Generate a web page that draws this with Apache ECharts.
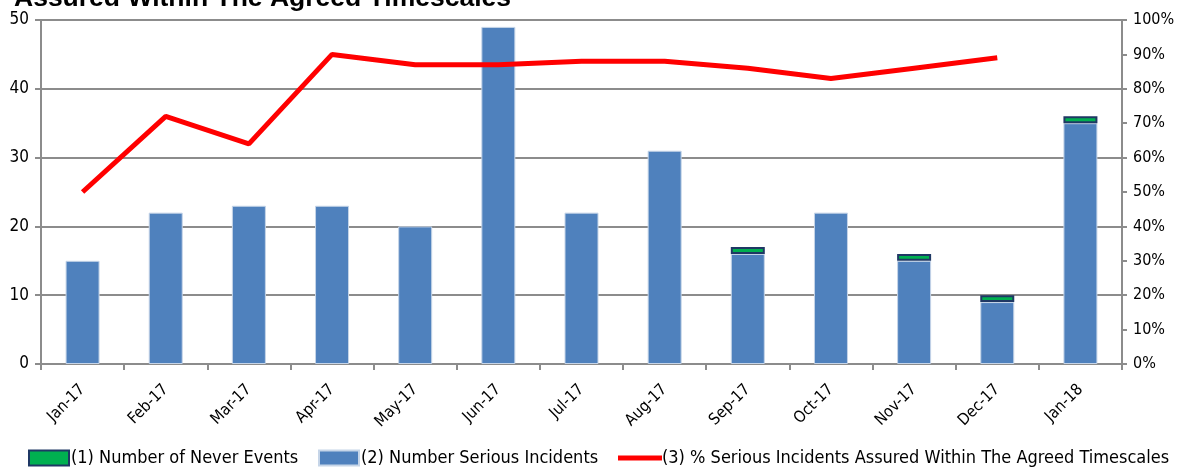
<!DOCTYPE html>
<html><head><meta charset="utf-8">
<script src="https://cdn.jsdelivr.net/npm/echarts@6/dist/echarts.min.js"></script>
<style>html,body{margin:0;padding:0;background:#fff}#c{width:1179px;height:469px}</style>
</head><body><div id="c"></div>
<script>
const categories = ['Jan-17','Feb-17','Mar-17','Apr-17','May-17','Jun-17','Jul-17','Aug-17','Sep-17','Oct-17','Nov-17','Dec-17','Jan-18'];
const seriousIncidents = [15,22,23,23,20,49,22,31,16,22,15,9,35];
const neverEvents = [0,0,0,0,0,0,0,0,1,0,1,1,1];
const pctAssured = [50,72,64,90,87,87,88,88,86,83,86,89,null];
const leftTicks = [0,10,20,30,40,50];
const rightTicks = [0,10,20,30,40,50,60,70,80,90,100];
const names = ['(1) Number of Never Events','(2) Number Serious Incidents','(3) % Serious Incidents Assured Within The Agreed Timescales'];
const titleText = 'Assured Within The Agreed Timescales';

const font = "'Liberation Sans Narrow','DejaVu Sans Condensed',sans-serif";
const chart = echarts.init(document.getElementById('c'));
const legendBase = {top: 444, itemHeight: 15, icon:'rect', textStyle:{fontFamily:font, fontSize:18, color:'#000', padding:[0,0,0,-3]}, itemGap: 0};
chart.setOption({
  animation:false,
  title:{text:titleText, left:9, top:-20, textStyle:{fontFamily:"'Liberation Sans',Arial,sans-serif", fontWeight:'bold', fontSize:26.5, color:'#000'}},
  grid:{left:41, right:57, top:20, bottom:105},
  legend:[
    Object.assign({}, legendBase, {left:23, data:[names[0]], itemWidth:40}),
    Object.assign({}, legendBase, {left:313, data:[names[1]], itemWidth:40}),
    Object.assign({}, legendBase, {left:613, data:[names[2]], itemWidth:44, itemHeight:5, textStyle:Object.assign({}, legendBase.textStyle, {padding:[0,0,0,-5]})})
  ],
  xAxis:{type:'category', data:categories,
    axisLine:{lineStyle:{color:'#8c8c8c', width:2}},
    axisTick:{show:true, alignWithLabel:false, length:6, lineStyle:{color:'#8c8c8c', width:2}},
    axisLabel:{rotate:45, fontFamily:font, fontSize:16, color:'#000', margin:23}},
  yAxis:[
    {type:'value', min:leftTicks[0], max:leftTicks[leftTicks.length-1], interval:10,
     axisLine:{show:true, lineStyle:{color:'#8c8c8c', width:2}},
     axisTick:{show:true, inside:false, length:6, lineStyle:{color:'#8c8c8c', width:2}},
     splitLine:{show:true, lineStyle:{color:'#8c8c8c', width:2}},
     axisLabel:{fontFamily:font, fontSize:17, color:'#000', margin:12}},
    {type:'value', min:rightTicks[0], max:rightTicks[rightTicks.length-1], interval:10, position:'right',
     axisLine:{show:true, lineStyle:{color:'#8c8c8c', width:2}},
     axisTick:{show:true, length:5, lineStyle:{color:'#8c8c8c', width:2}},
     splitLine:{show:false},
     axisLabel:{fontFamily:font, fontSize:16, color:'#000', margin:11, formatter:'{value}%'}}
  ],
  series:[
    {name:names[1], type:'bar', stack:'s', data:seriousIncidents, barWidth:34,
     itemStyle:{color:'#4F81BD', borderColor:'#c6d5e8', borderWidth:1}},
    {name:names[0], type:'bar', stack:'s', data:neverEvents.map(v => v === 0 ? null : v), barWidth:34,
     itemStyle:{color:'#00B050', borderColor:'#1F3864', borderWidth:2}},
    {name:names[2], type:'line', yAxisIndex:1, data:pctAssured, showSymbol:false, symbol:'none',
     lineStyle:{color:'#FF0000', width:5}, itemStyle:{color:'#FF0000'}}
  ]
});
</script></body></html>
